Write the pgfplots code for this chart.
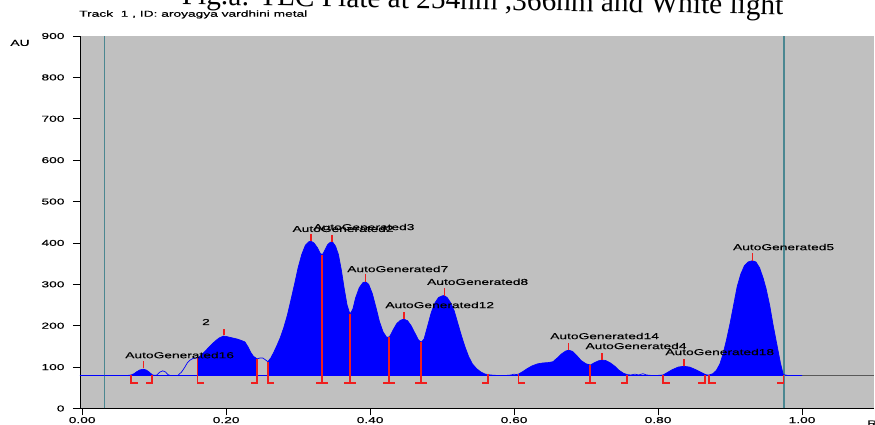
\documentclass[border=0pt]{standalone}
\usepackage{pgfplots}
\pgfplotsset{compat=1.18}
\usepackage{pgfplotstable}
\usepackage{fontspec}
\setmainfont{Liberation Sans}[FakeStretch=1.6,FakeBold=0.4]
\newfontfamily\titlefont{Liberation Serif}
\newcommand\sm{\fontsize{8.6}{9}\selectfont}
\definecolor{bg}{RGB}{192,192,192}
\definecolor{tealline}{RGB}{75,135,145}
\definecolor{redm}{RGB}{240,30,30}
\definecolor{pblue}{RGB}{0,0,255}

\pgfplotstableread{
x y
-0.003 80
0.030 80
0.060 80
0.064 80
0.068 81
0.072 84
0.076 89
0.080 93
0.085 95
0.089 93
0.093 88
0.097 82
0.100 80
0.104 81
0.108 88
0.112 91
0.116 88
0.119 82
0.122 80
0.133 80
0.138 88
0.142 98
0.146 110
0.150 117
0.154 121
0.160 122
0.165 128
0.170 137
0.175 146
0.180 155
0.185 163
0.190 170
0.196 175
0.200 174
0.205 172
0.210 170
0.215 168
0.220 165
0.226 161
0.230 150
0.234 136
0.238 126
0.243 120
0.247 122
0.251 122
0.255 117
0.258 113
0.262 122
0.266 135
0.270 150
0.275 170
0.280 195
0.285 225
0.290 262
0.295 300
0.300 340
0.305 372
0.310 394
0.315 403
0.318 404
0.322 400
0.327 388
0.331 374
0.334 372
0.337 382
0.341 396
0.345 402
0.348 402
0.352 392
0.356 372
0.360 335
0.364 290
0.368 250
0.372 228
0.376 240
0.380 268
0.385 292
0.390 304
0.394 306
0.398 300
0.403 278
0.408 245
0.413 210
0.418 185
0.423 172
0.427 173
0.432 190
0.437 205
0.442 213
0.447 216
0.452 212
0.457 200
0.462 183
0.467 166
0.471 160
0.475 168
0.480 200
0.485 232
0.490 255
0.495 268
0.500 272
0.503 273
0.507 268
0.512 255
0.517 235
0.522 205
0.527 175
0.532 148
0.537 125
0.542 108
0.548 96
0.554 88
0.560 83
0.567 81
0.575 80
0.590 80
0.596 81
0.600 83
0.603 82
0.606 83
0.612 89
0.618 96
0.625 103
0.633 108
0.640 110
0.648 111
0.654 113
0.660 122
0.666 132
0.672 139
0.676 141
0.681 138
0.687 128
0.693 116
0.700 108
0.706 105
0.711 110
0.717 115
0.722 117
0.727 116
0.733 111
0.740 102
0.746 92
0.752 85
0.757 82
0.762 81
0.768 83
0.773 81
0.779 84
0.784 81
0.790 80
0.800 80
0.807 81
0.812 86
0.820 94
0.828 100
0.836 102
0.844 100
0.852 94
0.860 87
0.866 82
0.869 81
0.871 81
0.876 84
0.881 92
0.886 108
0.890 130
0.895 165
0.900 205
0.905 250
0.910 295
0.915 325
0.920 345
0.925 354
0.931 357
0.936 354
0.941 340
0.946 315
0.950 290
0.955 250
0.960 200
0.965 155
0.970 110
0.974 82
0.980 80
1.000 80
}\curve

\begin{document}
\begin{tikzpicture}[x=1pt,y=1pt]
\useasboundingbox (0,0) rectangle (875,425);
\node[font=\titlefont\fontsize{29.3}{30}\selectfont, anchor=base, rotate=-1.0, inner sep=0] at (482.5,415.5) {Fig.a: TLC Plate at 254nm ,366nm and White light};
\node[anchor=west, font=\sm, inner sep=0] at (79,410.5) {Track\ \ 1 , ID: aroyagya vardhini metal};
\node[font=\sm, inner sep=0] at (20,382) {AU};
\node[anchor=north west, font=\sm, inner sep=0] at (867,5) {Rf};
\begin{axis}[
  at={(80pt,16.5pt)}, anchor=south west,
  scale only axis, width=794pt, height=372.5pt,
  xmin=-0.003, xmax=1.1, ymin=0, ymax=900,
  axis lines=left, axis line style={-, black, line width=0.9pt},
  axis background/.style={fill=bg},
  xtick={0,0.2,0.4,0.6,0.8,1.0},
  ytick={0,100,...,900},
  tick align=outside, major tick length=7pt,
  tick style={black, line width=0.6pt},
  x tick label style={/pgf/number format/.cd,fixed,fixed zerofill,precision=2,/tikz/.cd},
  /pgf/number format/assume math mode=true,
  ticklabel style={font=\sm},
  y tick label style={xshift=-5pt},
  x tick label style={yshift=2pt},
  clip=true,
]
% baseline
\addplot[pblue, line width=0.8pt] coordinates {(-0.003,80) (1.0,80)};
\addplot[gray!70!black, line width=0.8pt] coordinates {(1.0,80) (1.1,80)};
% teal lines
\addplot[tealline, line width=1.1pt] coordinates {(0.0306,0) (0.0306,900)};
\addplot[tealline, line width=1.1pt] coordinates {(0.975,0) (0.975,900)};
% filled regions
\addplot[fill=pblue, draw=none] table[restrict x to domain=0.0675:0.0975] {\curve} -- (axis cs:0.097,80) -- (axis cs:0.068,80) -- cycle;
\addplot[fill=pblue, draw=none] table[restrict x to domain=0.1595:0.2435] {\curve} -- (axis cs:0.243,80) -- (axis cs:0.160,80) -- cycle;
\addplot[fill=pblue, draw=none] table[restrict x to domain=0.2575:0.5675] {\curve} -- (axis cs:0.567,80) -- (axis cs:0.258,80) -- cycle;
\addplot[fill=pblue, draw=none] table[restrict x to domain=0.6055:0.7575] {\curve} -- (axis cs:0.757,80) -- (axis cs:0.606,80) -- cycle;
\addplot[fill=pblue, draw=none] table[restrict x to domain=0.8065:0.8665] {\curve} -- (axis cs:0.866,80) -- (axis cs:0.807,80) -- cycle;
\addplot[fill=pblue, draw=none] table[restrict x to domain=0.8705:0.9745] {\curve} -- (axis cs:0.974,80) -- (axis cs:0.871,80) -- cycle;
% curve line
\addplot[pblue, line width=0.7pt] table {\curve};
% start brackets
\addplot[redm, line width=1.5pt] coordinates {(0.068,80) (0.068,62) (0.077,62)};
\addplot[redm, line width=1.5pt] coordinates {(0.160,122) (0.160,62) (0.169,62)};
\addplot[redm, line width=1.5pt] coordinates {(0.258,113) (0.258,62) (0.267,62)};
\addplot[redm, line width=1.5pt] coordinates {(0.606,83) (0.606,62) (0.615,62)};
\addplot[redm, line width=1.5pt] coordinates {(0.807,81) (0.807,62) (0.816,62)};
\addplot[redm, line width=1.5pt] coordinates {(0.871,81) (0.871,62) (0.880,62)};
% end brackets
\addplot[redm, line width=1.5pt] coordinates {(0.097,82) (0.097,62) (0.088,62)};
\addplot[redm, line width=1.5pt] coordinates {(0.243,120) (0.243,62) (0.234,62)};
\addplot[redm, line width=1.5pt] coordinates {(0.564,84) (0.564,62) (0.555,62)};
\addplot[redm, line width=1.5pt] coordinates {(0.757,82) (0.757,62) (0.748,62)};
\addplot[redm, line width=1.5pt] coordinates {(0.865,82) (0.865,62) (0.856,62)};
\addplot[redm, line width=1.5pt] coordinates {(0.974,82) (0.974,62) (0.965,62)};
% separators
\addplot[redm, line width=1.8pt] coordinates {(0.333,372) (0.333,62)};
\addplot[redm, line width=1.8pt] coordinates {(0.372,228) (0.372,62)};
\addplot[redm, line width=1.8pt] coordinates {(0.426,172) (0.426,62)};
\addplot[redm, line width=1.8pt] coordinates {(0.471,160) (0.471,62)};
\addplot[redm, line width=1.8pt] coordinates {(0.706,105) (0.706,62)};
\addplot[redm, line width=1.5pt] coordinates {(0.325,62) (0.341,62)};
\addplot[redm, line width=1.5pt] coordinates {(0.364,62) (0.380,62)};
\addplot[redm, line width=1.5pt] coordinates {(0.418,62) (0.434,62)};
\addplot[redm, line width=1.5pt] coordinates {(0.463,62) (0.479,62)};
\addplot[redm, line width=1.5pt] coordinates {(0.698,62) (0.714,62)};
% peak markers
\addplot[redm, line width=1.4pt] coordinates {(0.085,97) (0.085,114)};
\addplot[redm, line width=1.4pt] coordinates {(0.197,177) (0.197,193)};
\addplot[redm, line width=1.4pt] coordinates {(0.318,404) (0.318,422)};
\addplot[redm, line width=1.4pt] coordinates {(0.347,402) (0.347,420)};
\addplot[redm, line width=1.4pt] coordinates {(0.394,306) (0.394,324)};
\addplot[redm, line width=1.4pt] coordinates {(0.447,216) (0.447,234)};
\addplot[redm, line width=1.4pt] coordinates {(0.503,273) (0.503,291)};
\addplot[redm, line width=1.4pt] coordinates {(0.676,141) (0.676,159)};
\addplot[redm, line width=1.4pt] coordinates {(0.722,117) (0.722,135)};
\addplot[redm, line width=1.4pt] coordinates {(0.836,102) (0.836,120)};
\addplot[redm, line width=1.4pt] coordinates {(0.931,357) (0.931,375)};
% labels
\node[anchor=west, font=\sm, inner sep=0] at (axis cs:0.0597,129) {AutoGenerated16};
\node[font=\sm, inner sep=0] at (axis cs:0.172,209) {2};
\node[anchor=west, font=\sm, inner sep=0] at (axis cs:0.292,434) {AutoGenerated2};
\node[anchor=west, font=\sm, inner sep=0] at (axis cs:0.321,438.5) {AutoGenerated3};
\node[anchor=west, font=\sm, inner sep=0] at (axis cs:0.368,337) {AutoGenerated7};
\node[anchor=west, font=\sm, inner sep=0] at (axis cs:0.479,306) {AutoGenerated8};
\node[anchor=west, font=\sm, inner sep=0] at (axis cs:0.421,250) {AutoGenerated12};
\node[anchor=west, font=\sm, inner sep=0] at (axis cs:0.650,175) {AutoGenerated14};
\node[anchor=west, font=\sm, inner sep=0] at (axis cs:0.699,151) {AutoGenerated4};
\node[anchor=west, font=\sm, inner sep=0] at (axis cs:0.810,136.5) {AutoGenerated18};
\node[anchor=west, font=\sm, inner sep=0] at (axis cs:0.904,390) {AutoGenerated5};
\end{axis}
\end{tikzpicture}
\end{document}
